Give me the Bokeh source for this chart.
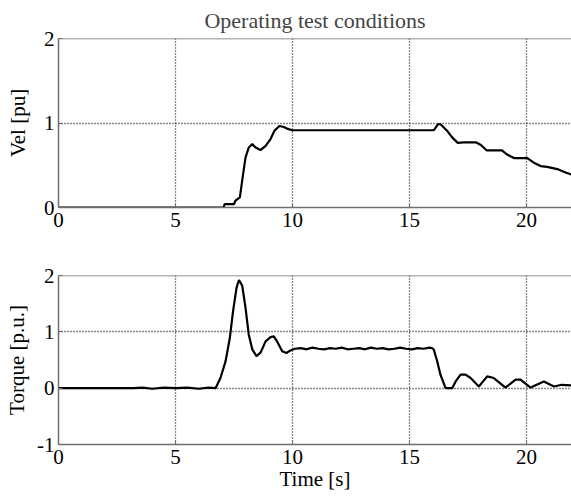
from bokeh.plotting import figure
from bokeh.layouts import column
from bokeh.models import Span, FixedTicker, Range1d
from bokeh.embed import file_html
from bokeh.resources import INLINE

FONT = "Liberation Serif"

title_text = "Operating test conditions"
x_label = "Time [s]"
vel_label = "Vel [pu]"
torque_label = "Torque [p.u.]"

x_ticks = [0, 5, 10, 15, 20]
vel_ticks = [0, 1, 2]
torque_ticks = [-1, 0, 1, 2]

vel_t = [0, 7.05, 7.1, 7.5, 7.56, 7.75, 7.85, 7.99, 8.13, 8.28, 8.42, 8.63, 8.85,
         9.06, 9.23, 9.44, 9.63, 9.8, 9.98, 16.04, 16.21, 16.32, 16.4, 16.61, 16.82,
         17.06, 17.32, 17.85, 18.05, 18.3, 18.95, 19.15, 19.46, 20.03, 20.31, 20.6,
         20.88, 21.31, 21.67, 21.92]
vel_v = [0, 0, 0.04, 0.04, 0.08, 0.12, 0.32, 0.59, 0.71, 0.75, 0.71, 0.68, 0.73,
         0.81, 0.91, 0.965, 0.953, 0.93, 0.914, 0.914, 0.985, 0.985, 0.965, 0.906, 0.83,
         0.765, 0.77, 0.77, 0.74, 0.675, 0.675, 0.63, 0.585, 0.585, 0.53, 0.49,
         0.48, 0.455, 0.415, 0.39]

torque_t = [0, 3.2, 3.6, 4.0, 4.5, 5.0, 5.5, 6.0, 6.4, 6.71, 6.92, 7.14, 7.32, 7.46,
            7.61, 7.71, 7.85, 7.99, 8.13, 8.28, 8.46, 8.63, 8.85, 9.06, 9.2, 9.34,
            9.56, 9.74, 9.91,
            10.1, 10.35, 10.6, 10.85, 11.1, 11.35, 11.6, 11.85, 12.1, 12.35, 12.6,
            12.85, 13.1, 13.35, 13.6, 13.85, 14.1, 14.35, 14.6, 14.85, 15.1, 15.35,
            15.6, 15.85, 15.96,
            16.03, 16.18, 16.32, 16.54, 16.82, 16.97, 17.18, 17.39, 17.61, 17.96,
            18.32, 18.6, 19.1, 19.53, 19.74, 20.17, 20.74, 21.17, 21.5, 21.92]
torque_v = [0, 0, 0.01, -0.01, 0.01, 0, 0.01, -0.01, 0.01, 0, 0.18, 0.48, 0.89, 1.37,
            1.79, 1.92, 1.82, 1.43, 0.95, 0.69, 0.57, 0.63, 0.83, 0.905, 0.92, 0.83,
            0.655, 0.625, 0.67,
            0.70, 0.71, 0.69, 0.72, 0.70, 0.69, 0.71, 0.70, 0.72, 0.69, 0.70,
            0.71, 0.69, 0.72, 0.70, 0.71, 0.69, 0.70, 0.72, 0.70, 0.69, 0.71,
            0.70, 0.72, 0.71,
            0.69, 0.48, 0.24, 0.0, 0.0, 0.12, 0.24, 0.24, 0.18, 0.03,
            0.21, 0.18, 0.01, 0.15, 0.15, 0.01, 0.12, 0.03, 0.06, 0.05]

X_END = 21.92
AX_COLOR = "#6e6e6e"


def make_fig(height, y0, y1, yticks, mbt, mbb, als):
    p = figure(width=571, height=height, output_backend="svg", toolbar_location=None,
               x_range=Range1d(0, X_END), y_range=Range1d(y0, y1),
               min_border_left=58, min_border_right=0,
               min_border_top=mbt, min_border_bottom=mbb)
    p.outline_line_color = None
    p.background_fill_color = "white"
    p.border_fill_color = "white"
    p.xaxis.ticker = FixedTicker(ticks=x_ticks)
    p.yaxis.ticker = FixedTicker(ticks=yticks)
    p.yaxis.major_label_overrides = {t: str(t) for t in yticks}
    for ax in p.xaxis + p.yaxis:
        ax.axis_line_color = AX_COLOR
        ax.axis_line_width = 1.5
        ax.major_tick_line_color = AX_COLOR
        ax.major_tick_in = 4
        ax.major_tick_out = 0
        ax.minor_tick_line_color = None
        ax.major_label_text_font = FONT
        ax.major_label_text_font_size = "21px"
        ax.major_label_text_color = "black"
        ax.axis_label_text_font = FONT
        ax.axis_label_text_font_size = "21px"
        ax.axis_label_text_font_style = "normal"
        ax.axis_label_text_color = "black"
    p.xaxis.major_label_standoff = 5
    p.yaxis.major_label_standoff = 4
    p.yaxis.axis_label_standoff = als
    for g in (p.xgrid, p.ygrid):
        g.grid_line_color = "#111111"
        g.grid_line_dash = "1 2"
        g.grid_line_width = 1.3
    p.add_layout(Span(location=y1, dimension="width", line_color=AX_COLOR, line_width=1.5))
    return p


p1 = make_fig(243, 0, 2, vel_ticks, 37, 36, 11)
p1.title.text = title_text
p1.title.text_font = FONT
p1.title.text_font_size = "22px"
p1.title.text_font_style = "normal"
p1.title.align = "center"
p1.title.standoff = 11
p1.yaxis.axis_label = vel_label
p1.line(vel_t, vel_v, line_color="black", line_width=2.2)

p2 = make_fig(257, -1, 2, torque_ticks, 32, 56, 5)
p2.yaxis.axis_label = torque_label
p2.xaxis.axis_label = x_label
p2.xaxis.axis_label_standoff = 0
p2.line(torque_t, torque_v, line_color="black", line_width=2.2)

layout = column(p1, p2)
open("out.html", "w").write(file_html(layout, INLINE))
